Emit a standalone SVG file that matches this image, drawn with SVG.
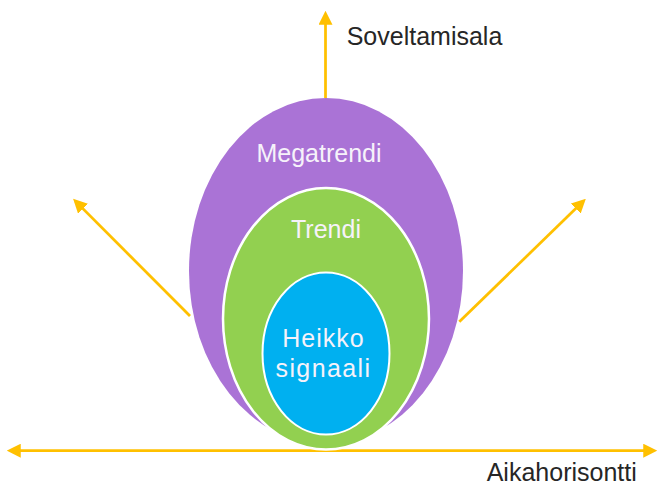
<svg xmlns="http://www.w3.org/2000/svg" width="658" height="487" viewBox="0 0 658 487">
<style>
.ax{stroke:#FFC000;stroke-width:2.75;fill:none}
.lbl{font-family:"Liberation Sans",Arial,sans-serif;font-size:25px;fill:#262626}
.in{font-family:"Liberation Sans",Arial,sans-serif;font-size:25px;fill:#F6F2FA;text-anchor:middle}
</style>
<defs>
<marker id="ah" markerUnits="userSpaceOnUse" markerWidth="14" markerHeight="14" viewBox="0 0 13 13" refX="10" refY="6.5" orient="auto-start-reverse">
<path d="M0,0 L13,6.5 L0,13 z" fill="#FFC000"/>
</marker>
</defs>
<g id="connectors">
<line class="ax" x1="325.5" y1="98" x2="325.5" y2="14" marker-end="url(#ah)"/>
<line class="ax" x1="10" y1="450.7" x2="654" y2="450.7" marker-start="url(#ah)" marker-end="url(#ah)"/>
<line class="ax" x1="190" y1="316" x2="75.4" y2="201.1" marker-end="url(#ah)"/>
<line class="ax" x1="459.3" y1="321.7" x2="583.5" y2="201.1" marker-end="url(#ah)"/>
</g>
<g id="megatrendi">
<ellipse cx="326" cy="271" rx="137" ry="173" fill="#AA73D6"/>
<text class="in" x="319" y="161.7">Megatrendi</text>
</g>
<g id="trendi">
<ellipse cx="326" cy="318.8" rx="103" ry="130.7" fill="#92D050" stroke="#FFFFFF" stroke-width="2.5"/>
<text class="in" x="326" y="238.3">Trendi</text>
</g>
<g id="heikko-signaali">
<ellipse cx="326" cy="353.5" rx="63.5" ry="81" fill="#00B0F0" stroke="#FFFFFF" stroke-width="2"/>
<text class="in" x="323.5" y="346.7" letter-spacing="1">Heikko</text>
<text class="in" x="323.5" y="376.7" letter-spacing="1.4">signaali</text>
</g>
<g id="labels">
<text class="lbl" x="346.7" y="45">Soveltamisala</text>
<text class="lbl" x="486.7" y="481">Aikahorisontti</text>
</g>
</svg>
